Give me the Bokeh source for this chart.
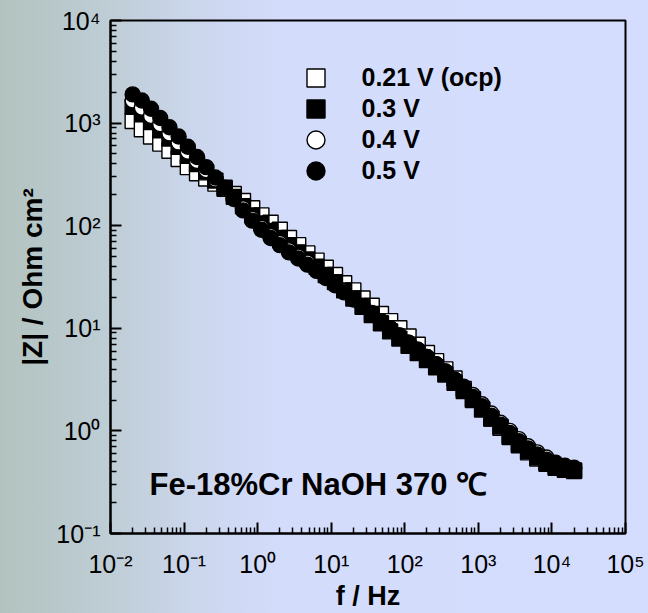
from bokeh.plotting import figure
from bokeh.models import Range1d, FixedTicker, Legend, LegendItem, Label
from bokeh.embed import file_html
from bokeh.resources import INLINE

# ---------------- data ----------------
freq = [0.02, 0.02667, 0.03557, 0.04743, 0.06325, 0.08434, 0.1125, 0.15, 0.2, 0.2667,
        0.3557, 0.4743, 0.6325, 0.8434, 1.125, 1.5, 2.0, 2.667, 3.557, 4.743,
        6.325, 8.434, 11.25, 15.0, 20.0, 26.67, 35.57, 47.43, 63.25, 84.34,
        112.5, 150.0, 200.0, 266.7, 355.7, 474.3, 632.5, 843.4, 1125.0, 1500.0,
        2000.0, 2667.0, 3557.0, 4743.0, 6325.0, 8434.0, 11250.0, 15000.0, 20000.0]

z_021 = [1047, 871, 741, 631, 537, 447, 372, 324, 288, 257,
         234, 204, 174, 148, 126, 107, 91.2, 75.9, 64.6, 53.7,
         45.7, 38.9, 33.1, 27.5, 23.4, 19.5, 16.6, 13.8, 11.75, 10.0,
         8.32, 6.92, 5.75, 4.79, 3.98, 3.24, 2.57, 2.04, 1.62, 1.32,
         1.07, 0.871, 0.724, 0.617, 0.537, 0.479, 0.437, 0.417, 0.407]

z_03 = [1445, 1230, 1023, 851, 708, 589, 479, 398, 331, 275,
        229, 191, 155, 126, 105, 89.1, 75.9, 64.6, 55.0, 46.8,
        39.8, 33.1, 28.2, 23.4, 19.5, 16.2, 13.5, 11.2, 9.33, 7.94,
        6.76, 5.75, 4.90, 4.17, 3.55, 2.95, 2.45, 2.00, 1.62, 1.32,
        1.10, 0.891, 0.741, 0.631, 0.550, 0.490, 0.447, 0.427, 0.412]

z_04 = [1660, 1413, 1175, 977, 794, 646, 525, 427, 347, 282,
        229, 186, 148, 117, 95.5, 79.4, 67.6, 57.5, 50.1, 43.7,
        37.2, 31.6, 26.9, 22.9, 19.5, 16.6, 14.1, 11.75, 10.0, 8.51,
        7.24, 6.17, 5.25, 4.47, 3.80, 3.16, 2.69, 2.24, 1.82, 1.48,
        1.20, 1.00, 0.832, 0.708, 0.617, 0.550, 0.490, 0.457, 0.437]

z_05 = [1905, 1660, 1380, 1122, 912, 741, 589, 468, 372, 295,
        234, 182, 141, 112, 91.2, 75.9, 64.6, 55.0, 47.9, 41.7,
        36.3, 30.9, 26.3, 22.4, 19.1, 16.2, 13.8, 11.75, 10.0, 8.51,
        7.24, 6.17, 5.25, 4.47, 3.80, 3.16, 2.63, 2.14, 1.74, 1.41,
        1.15, 0.955, 0.794, 0.676, 0.589, 0.525, 0.479, 0.447, 0.427]

series_labels = ["0.21 V (ocp)", "0.3 V", "0.4 V", "0.5 V"]

x_ticks = [0.01, 0.1, 1, 10, 100, 1000, 10000, 100000]
x_tick_labels = ["10⁻²", "10⁻¹", "10⁰", "10¹", "10²", "10³", "10⁴", "10⁵"]
y_ticks = [0.1, 1, 10, 100, 1000, 10000]
y_tick_labels = ["10⁻¹", "10⁰", "10¹", "10²", "10³", "10⁴"]

x_title = "f / Hz"
y_title = "|Z| / Ohm cm²"
note = "Fe-18%Cr NaOH 370 ℃"

# ---------------- figure ----------------
FONT = "Liberation Sans"
p = figure(width=648, height=613, x_axis_type="log", y_axis_type="log",
           x_range=Range1d(1e-2, 1e5), y_range=Range1d(1e-1, 1e4),
           output_backend="svg", toolbar_location=None,
           min_border_left=110, min_border_right=23, min_border_top=20, min_border_bottom=76)
p.background_fill_color = None
p.border_fill_color = None
p.styles = {"background": "linear-gradient(to right, #b2c3bf 0px, #bfcdd6 110px, "
                          "#ccd7ee 200px, #d3dcfb 280px, #d4ddfd 648px)"}
p.outline_line_color = "black"
p.outline_line_width = 2
p.xgrid.grid_line_color = None
p.ygrid.grid_line_color = None

def minors(ticks):
    return [m * t for t in ticks[:-1] for m in range(2, 10)]

p.xaxis.ticker = FixedTicker(ticks=x_ticks, minor_ticks=minors(x_ticks))
p.yaxis.ticker = FixedTicker(ticks=y_ticks, minor_ticks=minors(y_ticks))
p.xaxis.major_label_overrides = dict(zip(x_ticks, x_tick_labels))
p.yaxis.major_label_overrides = dict(zip(y_ticks, y_tick_labels))
for ax in (p.xaxis, p.yaxis):
    ax.axis_line_width = 2
    ax.axis_line_color = "black"
    ax.major_tick_in = 11
    ax.major_tick_out = 0
    ax.minor_tick_in = 6
    ax.minor_tick_out = 0
    ax.major_tick_line_width = 2
    ax.minor_tick_line_width = 1.5
    ax.major_label_text_font = FONT
    ax.major_label_text_font_size = "25px"
    ax.major_label_text_color = "black"
    ax.axis_label_text_font = FONT
    ax.axis_label_text_font_style = "bold"
    ax.axis_label_text_color = "black"

p.xaxis.axis_label = x_title
p.xaxis.axis_label_text_font_size = "27px"
p.xaxis.major_label_standoff = 16
p.xaxis.axis_label_standoff = 0
p.yaxis.axis_label = y_title
p.yaxis.axis_label_text_font_size = "28px"
p.yaxis.major_label_standoff = 10
p.yaxis.axis_label_standoff = 5

# ---------------- data markers ----------------
MS = 15
common = dict(size=MS, line_color="black", line_width=1.4)
r1 = p.scatter(freq, z_021, marker="square", fill_color="white", **common)
r2 = p.scatter(freq, z_03, marker="square", fill_color="black", **common)
r3 = p.scatter(freq, z_04, marker="circle", fill_color="white", **common)
r4 = p.scatter(freq, z_05, marker="circle", fill_color="black", **common)

# legend: one single-row legend per series so rows can sit 31 px apart
ROW0, ROWSTEP, GLYPH = 81, 31, 45
for i, (lab, r) in enumerate(zip(series_labels, [r1, r2, r3, r4])):
    centre = ROW0 + ROWSTEP * i          # px from canvas top
    bottom_from_frame = (537 - (centre + GLYPH / 2))
    lg = Legend(items=[LegendItem(label=lab, renderers=[r])],
                location=(182.5, bottom_from_frame), glyph_width=GLYPH, glyph_height=GLYPH,
                padding=0, margin=0, label_standoff=24,
                label_text_font=FONT, label_text_font_size="25px",
                label_text_font_style="bold", label_text_color="black",
                background_fill_alpha=0, border_line_alpha=0)
    p.add_layout(lg)

# ---------------- note inside the frame ----------------
p.add_layout(Label(x=39, y=49, x_units="screen", y_units="screen", text=note,
                   text_align="left", text_baseline="alphabetic", text_font=FONT,
                   text_font_size="31px", text_font_style="bold", text_color="black"))

open("out.html", "w").write(file_html(p, INLINE))
